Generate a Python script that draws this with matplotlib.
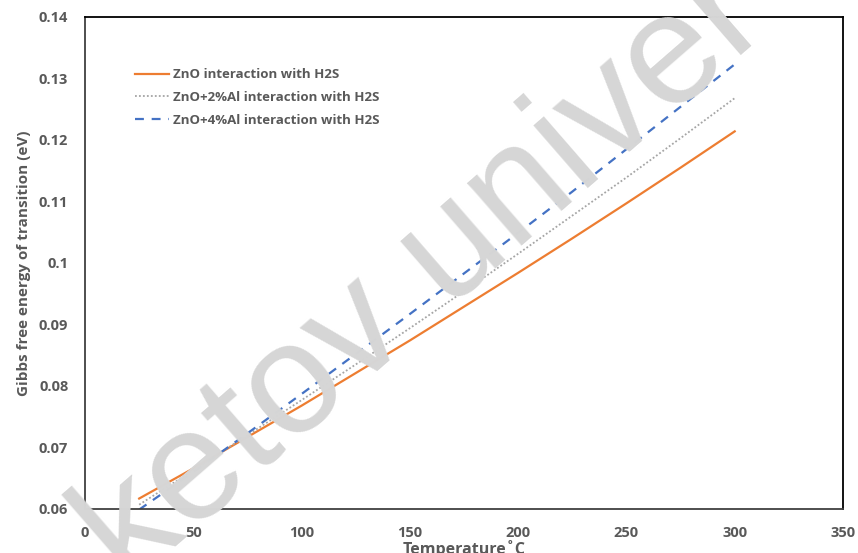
import matplotlib

matplotlib.use("Agg")
import matplotlib.pyplot as plt

# Temperature (degC) and Gibbs free energy of transition (eV)
temperature = [25, 50, 75, 100, 125, 150, 175, 200, 225, 250, 275, 300]
zno = [0.0617, 0.0666, 0.0717, 0.0768, 0.0821, 0.0874, 0.0929, 0.0984,
       0.1040, 0.1097, 0.1155, 0.1214]
zno_al2 = [0.0607, 0.0663, 0.0720, 0.0777, 0.0835, 0.0894, 0.0954, 0.1015,
           0.1077, 0.1139, 0.1203, 0.1268]
zno_al4 = [0.0599, 0.0660, 0.0723, 0.0787, 0.0852, 0.0917, 0.0983, 0.1049,
           0.1116, 0.1185, 0.1254, 0.1323]

labels = [
    "ZnO interaction with H2S",
    "ZnO+2%Al interaction with H2S",
    "ZnO+4%Al interaction with H2S",
]
x_ticks = [0, 50, 100, 150, 200, 250, 300, 350]
y_ticks = [0.06, 0.07, 0.08, 0.09, 0.1, 0.11, 0.12, 0.13, 0.14]
y_tick_labels = ["0.06", "0.07", "0.08", "0.09", "0.1", "0.11", "0.12", "0.13", "0.14"]

TEXT = "#595959"
plt.rcParams["font.family"] = ["Open Sans", "DejaVu Sans"]

fig = plt.figure(figsize=(8.58, 5.53), dpi=100)
fig.patch.set_facecolor("white")

# faint watermark behind the plot
fig.text(0.495, 0.50, "ketov univer", fontsize=114, color="#d6d6d6",
         family="Liberation Sans", rotation=41, ha="center", va="center",
         zorder=0)

ax = fig.add_axes([0.0991, 0.0796, 0.8834, 0.8897])
ax.set_facecolor("none")

ax.plot(temperature, zno, color="#ED7D31", lw=1.6, label=labels[0])
ax.plot(temperature, zno_al2, color="#A5A5A5", lw=1.3, ls=(0, (1, 1.2)),
        label=labels[1])
ax.plot(temperature, zno_al4, color="#4472C4", lw=1.6, ls=(0, (4, 3.5)),
        label=labels[2])

ax.set_xlim(0, 350)
ax.set_ylim(0.06, 0.14)
ax.set_xticks(x_ticks)
ax.set_yticks(y_ticks)
ax.set_yticklabels(y_tick_labels)
ax.tick_params(length=0, labelsize=10.5, labelcolor=TEXT, pad=12)
for lbl in ax.get_xticklabels() + ax.get_yticklabels():
    lbl.set_fontweight("bold")

ax.spines["left"].set_color("#404040")
ax.spines["bottom"].set_color("#404040")
ax.spines["top"].set_color("black")
ax.spines["right"].set_color("black")
for s in ax.spines.values():
    s.set_linewidth(1.3)

ax.set_xlabel("Temperature\u02daC", fontsize=11.5, fontweight="bold",
              color=TEXT, labelpad=0)
ax.set_ylabel("Gibbs free energy of transition (eV)", fontsize=11,
              fontweight="bold", color=TEXT, labelpad=6)

leg = ax.legend(loc="upper left", bbox_to_anchor=(0.05, 0.92), frameon=False,
                fontsize=9.5, handlelength=2.6, handletextpad=0.3,
                labelspacing=0.75)
for t in leg.get_texts():
    t.set_color(TEXT)
    t.set_fontweight("bold")

fig.savefig("out.png", dpi=100)
